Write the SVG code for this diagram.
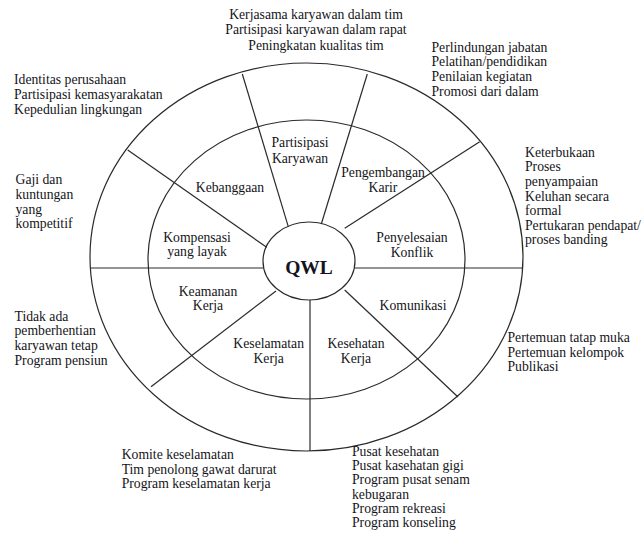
<svg xmlns="http://www.w3.org/2000/svg" width="643" height="536" viewBox="0 0 643 536">
<style>
text{font-family:"Liberation Serif","Times New Roman",serif;font-size:13.7px;fill:#141420}
.c{text-anchor:middle}
.ring{fill:none;stroke:#2a2a2a;stroke-width:1.2}
.sp{stroke:#2a2a2a;stroke-width:1.2;fill:none}
.q{font-size:19.5px;font-weight:bold}
</style>
<rect width="643" height="536" fill="#fff"/>
<g id="rings">
<ellipse class="ring" cx="306.5" cy="257" rx="216.5" ry="194"/>
<ellipse class="ring" cx="306.5" cy="259.5" rx="158.5" ry="139.5"/>
</g>
<g id="connectors">
<line class="sp" x1="266.7" y1="247.3" x2="127.7" y2="150"/>
<line class="sp" x1="288.3" y1="226.7" x2="242.3" y2="74"/>
<line class="sp" x1="321.3" y1="224" x2="367.3" y2="74"/>
<line class="sp" x1="344.7" y1="228.3" x2="479.7" y2="141.7"/>
<line class="sp" x1="354.5" y1="268" x2="523" y2="268"/>
<line class="sp" x1="344.7" y1="290" x2="458" y2="397"/>
<line class="sp" x1="310" y1="300" x2="310" y2="451"/>
<line class="sp" x1="276" y1="291" x2="151" y2="386.7"/>
<line class="sp" x1="263.5" y1="268" x2="91" y2="268"/>
</g>
<g id="qwl">
<ellipse class="ring" cx="309" cy="261" rx="46" ry="39" fill="#fff"/>
<text class="c q" x="309" y="274">QWL</text>
</g>
<g id="partisipasi-karyawan"><text class="c" x="300" y="147">Partisipasi</text><text class="c" x="300" y="163">Karyawan</text></g>
<g id="pengembangan-karir"><text class="c" x="383" y="177">Pengembangan</text><text class="c" x="383" y="192">Karir</text></g>
<g id="penyelesaian-konflik"><text class="c" x="412" y="242">Penyelesaian</text><text class="c" x="412" y="256.5">Konflik</text></g>
<g id="komunikasi"><text class="c" x="413" y="309.5">Komunikasi</text></g>
<g id="kesehatan-kerja"><text class="c" x="356" y="348">Kesehatan</text><text class="c" x="356" y="363">Kerja</text></g>
<g id="keselamatan-kerja"><text class="c" x="268.7" y="348">Keselamatan</text><text class="c" x="268.7" y="363">Kerja</text></g>
<g id="keamanan-kerja"><text class="c" x="208" y="296">Keamanan</text><text class="c" x="208" y="310">Kerja</text></g>
<g id="kompensasi"><text class="c" x="197" y="242">Kompensasi</text><text class="c" x="197" y="256">yang layak</text></g>
<g id="kebanggaan"><text class="c" x="230" y="192">Kebanggaan</text></g>
<g id="note-partisipasi"><text class="c" x="316" y="19">Kerjasama karyawan dalam tim</text><text class="c" x="316" y="34">Partisipasi karyawan dalam rapat</text><text class="c" x="316" y="49.5">Peningkatan kualitas tim</text></g>
<g id="note-karir"><text x="431.5" y="51.7">Perlindungan jabatan</text><text x="431.5" y="66.2">Pelatihan/pendidikan</text><text x="431.5" y="80.9">Penilaian kegiatan</text><text x="431.5" y="95.7">Promosi dari dalam</text></g>
<g id="note-konflik"><text x="525" y="156.7">Keterbukaan</text><text x="525" y="171.2">Proses</text><text x="525" y="185.8">penyampaian</text><text x="525" y="200.6">Keluhan secara</text><text x="525" y="215">formal</text><text x="525" y="229.8">Pertukaran pendapat/</text><text x="525" y="244.4">proses banding</text></g>
<g id="note-komunikasi"><text x="507.5" y="342">Pertemuan tatap muka</text><text x="507.5" y="356.5">Pertemuan kelompok</text><text x="507.5" y="371">Publikasi</text></g>
<g id="note-kesehatan"><text x="352" y="455.5">Pusat kesehatan</text><text x="352" y="470">Pusat kasehatan gigi</text><text x="352" y="484.4">Program pusat senam</text><text x="352" y="498.5">kebugaran</text><text x="352" y="512.8">Program rekreasi</text><text x="352" y="527">Program konseling</text></g>
<g id="note-keselamatan"><text x="121.7" y="459.3">Komite keselamatan</text><text x="121.7" y="473.7">Tim penolong gawat darurat</text><text x="121.7" y="487.8">Program keselamatan kerja</text></g>
<g id="note-keamanan"><text x="14.5" y="321">Tidak ada</text><text x="14.5" y="335.4">pemberhentian</text><text x="14.5" y="349.6">karyawan tetap</text><text x="14.5" y="364.5">Program pensiun</text></g>
<g id="note-kompensasi"><text x="15.5" y="184">Gaji dan</text><text x="15.5" y="199">kuntungan</text><text x="15.5" y="213.6">yang</text><text x="15.5" y="228">kompetitif</text></g>
<g id="note-kebanggaan"><text x="14" y="84">Identitas perusahaan</text><text x="14" y="99">Partisipasi kemasyarakatan</text><text x="14" y="114">Kepedulian lingkungan</text></g>
</svg>
